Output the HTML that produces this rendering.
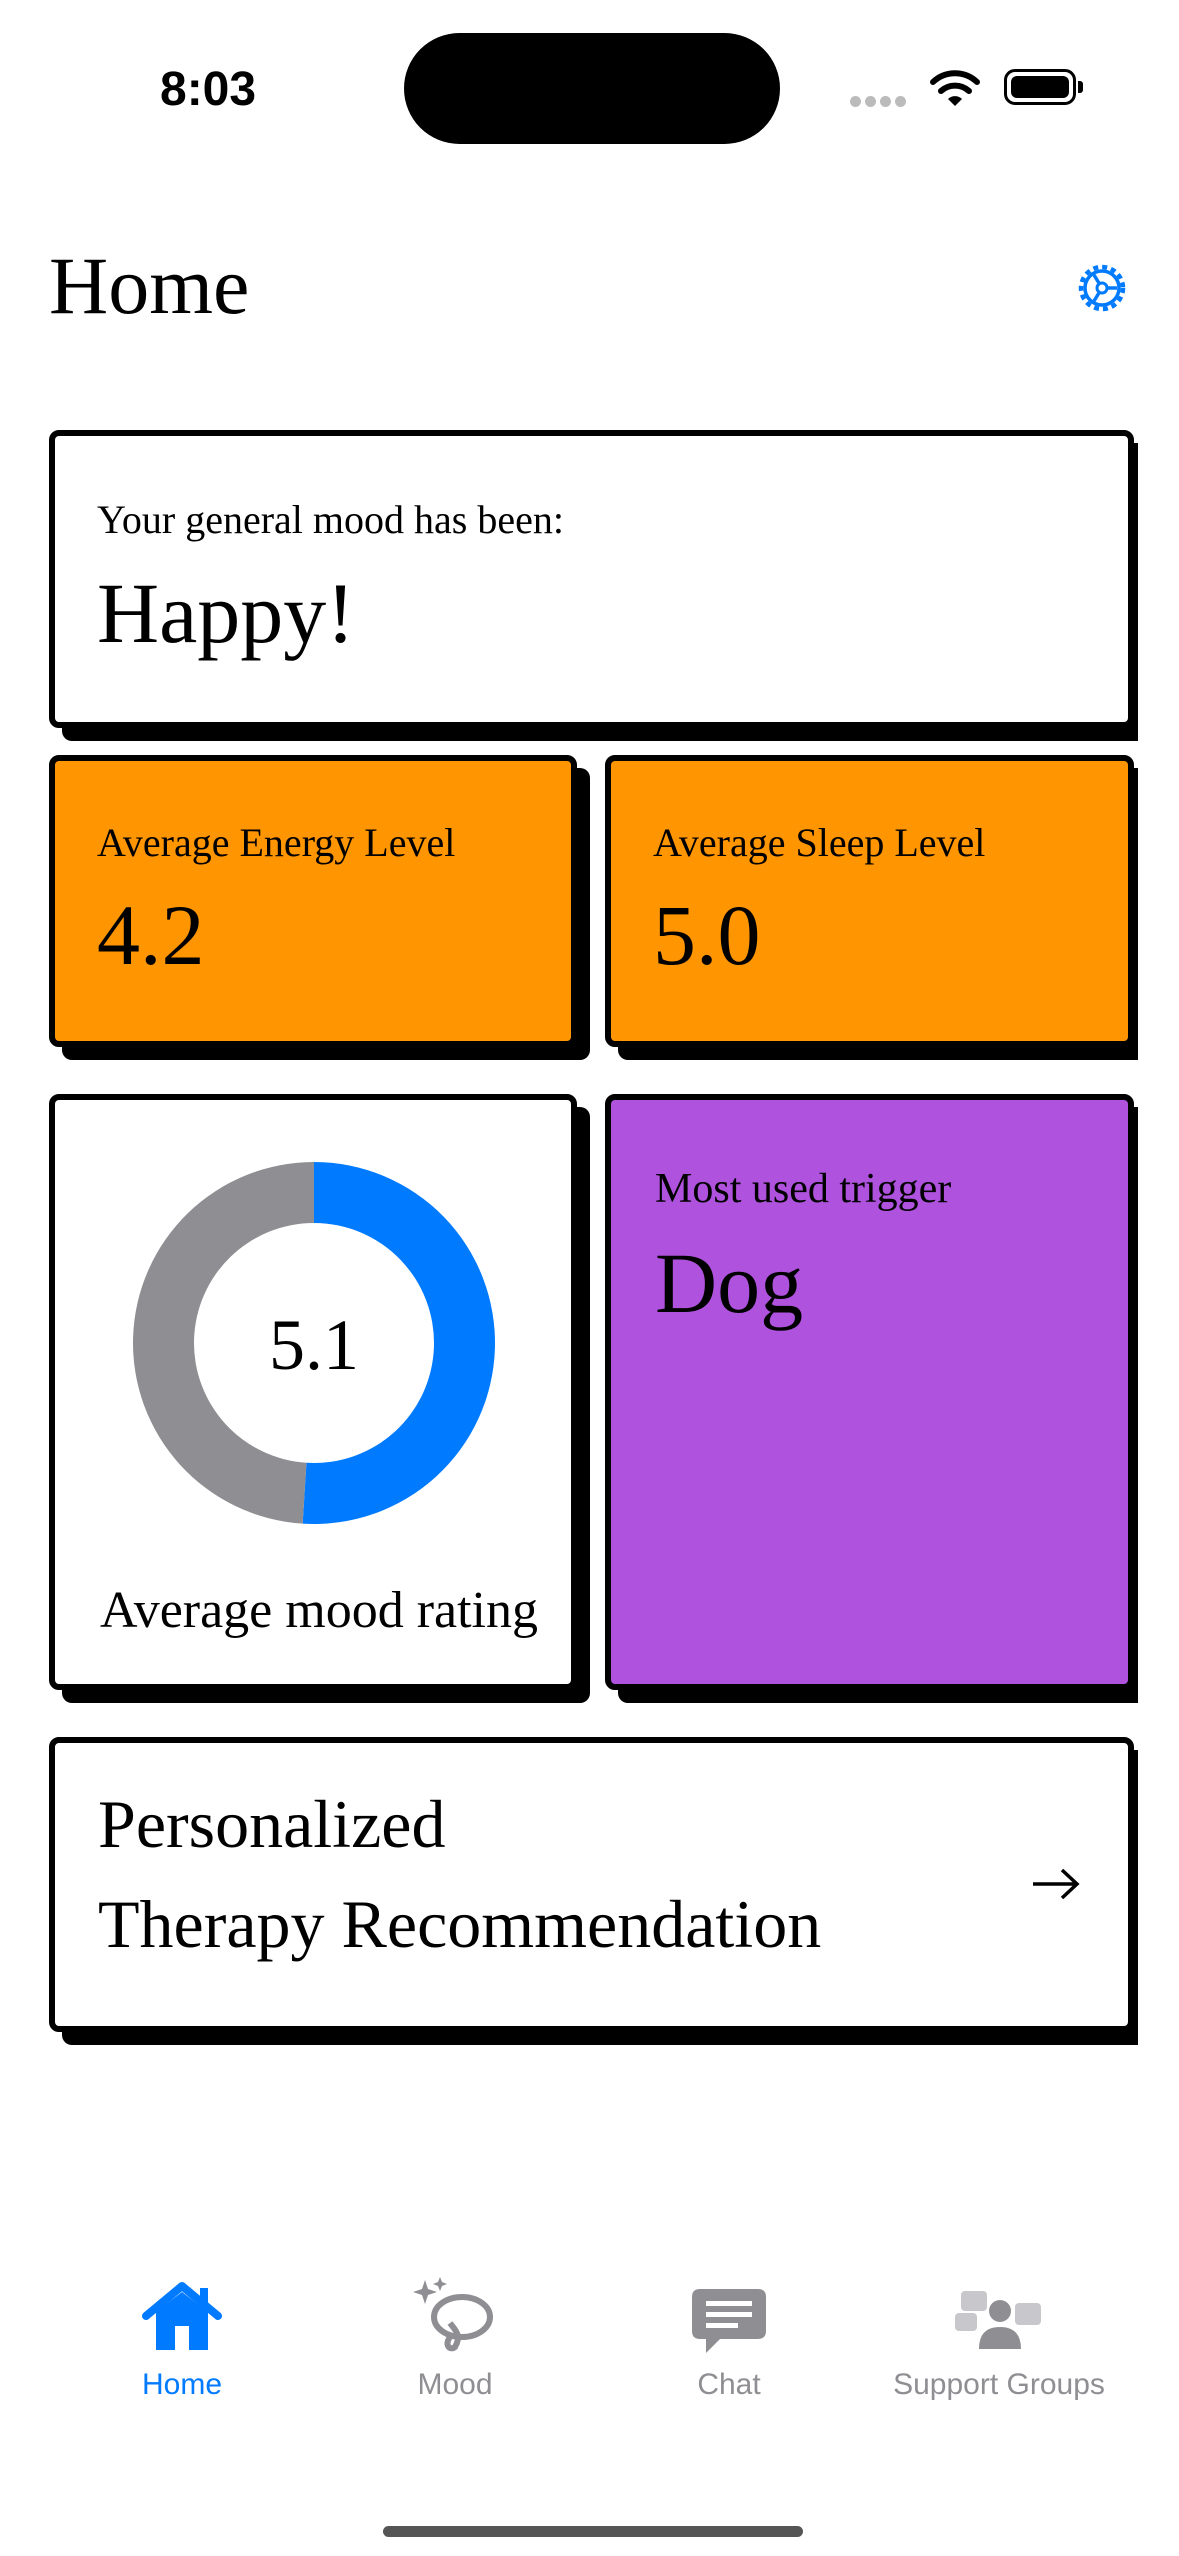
<!DOCTYPE html>
<html><head><meta charset="utf-8">
<style>
html,body{margin:0;padding:0;}
body{width:1179px;height:2556px;background:#fff;position:relative;overflow:hidden;font-family:"Liberation Serif",serif;color:#000;}
.abs{position:absolute;}
.clip{position:absolute;left:0;top:0;width:1138px;height:2100px;overflow:hidden;}
.card{position:absolute;box-sizing:border-box;border:6px solid #000;border-radius:10px;box-shadow:13px 13px 0 #000;}
.t{position:absolute;white-space:nowrap;line-height:1;}
.sans{font-family:"Liberation Sans",sans-serif;}
.tab{position:absolute;top:2368px;width:260px;margin-left:-130px;text-align:center;font-family:"Liberation Sans",sans-serif;font-size:30px;color:#8e8e93;}
</style></head>
<body>
<div class="t sans" style="left:160px;top:66px;font-size:48px;font-weight:bold;">8:03</div>
<div class="abs" style="left:404px;top:33px;width:376px;height:111px;background:#000;border-radius:56px;"></div>
<div class="abs" style="left:850px;top:96px;">
  <span style="position:absolute;left:0;width:11px;height:11px;border-radius:6px;background:#bbb"></span>
  <span style="position:absolute;left:15px;width:11px;height:11px;border-radius:6px;background:#bbb"></span>
  <span style="position:absolute;left:30px;width:11px;height:11px;border-radius:6px;background:#bbb"></span>
  <span style="position:absolute;left:45px;width:11px;height:11px;border-radius:6px;background:#bbb"></span>
</div>
<svg class="abs" style="left:930px;top:68px" width="50" height="40" viewBox="0 0 50 40">
  <path d="M3 14 A32 32 0 0 1 47 14" stroke="#000" stroke-width="6" fill="none" stroke-linecap="round"/>
  <path d="M11 23 A21 21 0 0 1 39 23" stroke="#000" stroke-width="6" fill="none" stroke-linecap="round"/>
  <path d="M18 31 L25 38 L32 31 A10 10 0 0 0 18 31Z" fill="#000"/>
</svg>
<div class="abs" style="left:1004px;top:69px;width:72px;height:36px;box-sizing:border-box;border:3px solid #000;border-radius:11px;padding:4px;">
  <div style="width:100%;height:100%;background:#000;border-radius:6px;"></div>
</div>
<div class="abs" style="left:1078px;top:81px;width:5px;height:12px;background:#000;border-radius:0 3px 3px 0;"></div>

<div class="t" style="left:49px;top:245px;font-size:82px;">Home</div>
<svg class="abs" style="left:1072px;top:258px" width="60" height="60" viewBox="0 0 60 60">
  <circle cx="30" cy="30" r="21" stroke="#007AFF" stroke-width="4.5" fill="none" stroke-dasharray="5 4"/>
  <circle cx="30" cy="30" r="17" stroke="#007AFF" stroke-width="3.5" fill="none"/>
  <path d="M30 30 L45 30 M30 30 L22 17 M30 30 L22 43" stroke="#007AFF" stroke-width="3.5"/>
  <circle cx="30" cy="30" r="5" fill="#fff" stroke="#007AFF" stroke-width="3"/>
</svg>

<div class="clip">
  <div class="card" style="left:49px;top:430px;width:1085px;height:298px;background:#fff;"></div>
  <div class="card" style="left:49px;top:755px;width:528px;height:292px;background:#FF9500;"></div>
  <div class="card" style="left:605px;top:755px;width:529px;height:292px;background:#FF9500;"></div>
  <div class="card" style="left:49px;top:1094px;width:528px;height:596px;background:#fff;"></div>
  <div class="card" style="left:605px;top:1094px;width:529px;height:596px;background:#AF52DE;"></div>
  <div class="card" style="left:49px;top:1737px;width:1085px;height:295px;background:#fff;"></div>
</div>

<div class="t" style="left:97px;top:500px;font-size:40px;">Your general mood has been:</div>
<div class="t" style="left:97px;top:570px;font-size:86px;">Happy!</div>
<div class="t" style="left:97px;top:823px;font-size:40px;">Average Energy Level</div>
<div class="t" style="left:97px;top:892px;font-size:86px;">4.2</div>
<div class="t" style="left:653px;top:823px;font-size:40px;">Average Sleep Level</div>
<div class="t" style="left:653px;top:892px;font-size:86px;">5.0</div>

<svg class="abs" id="donut" style="left:49px;top:1094px" width="530" height="450"></svg>
<div class="t" style="left:100px;top:1585px;font-size:52px;">Average mood rating</div>

<div class="t" style="left:655px;top:1168px;font-size:42px;">Most used trigger</div>
<div class="t" style="left:655px;top:1240px;font-size:86px;">Dog</div>

<div class="t" style="left:98px;top:1790px;font-size:68px;">Personalized</div>
<div class="t" style="left:98px;top:1890px;font-size:68px;">Therapy Recommendation</div>
<svg class="abs" style="left:1030px;top:1866px" width="52" height="36" viewBox="0 0 52 36">
  <path d="M3 18 H47 M32 4 L47 18 L32 32" stroke="#000" stroke-width="3.5" fill="none"/>
</svg>

<svg class="abs" style="left:140px;top:2280px" width="84" height="74" viewBox="0 0 84 74">
  <path d="M6 36 L42 6 L78 36" stroke="#007AFF" stroke-width="8" fill="none" stroke-linecap="round" stroke-linejoin="round"/>
  <path d="M16 32 V70 H68 V32 L42 12Z" fill="#007AFF"/>
  <rect x="35" y="46" width="14" height="24" fill="#fff"/>
  <rect x="60" y="8" width="8" height="18" fill="#007AFF"/>
</svg>
<div class="tab" style="left:182px;color:#007AFF;">Home</div>
<svg class="abs" style="left:410px;top:2275px" width="90" height="80" viewBox="0 0 90 80">
  <path d="M15 5 L18 14 L27 17 L18 20 L15 29 L12 20 L3 17 L12 14Z" fill="#8e8e93"/>
  <path d="M30 2 L32 7 L37 9 L32 11 L30 16 L28 11 L23 9 L28 7Z" fill="#8e8e93"/>
  <ellipse cx="52" cy="42" rx="28" ry="20" stroke="#8e8e93" stroke-width="6" fill="none"/>
  <path d="M40 48 C45 55 52 60 45 72 C40 76 34 70 40 62" stroke="#8e8e93" stroke-width="6" fill="none"/>
</svg>
<div class="tab" style="left:455px;">Mood</div>
<svg class="abs" style="left:690px;top:2287px" width="78" height="72" viewBox="0 0 78 72">
  <path d="M10 2 H68 Q76 2 76 10 V44 Q76 52 68 52 H30 L16 66 V52 H10 Q2 52 2 44 V10 Q2 2 10 2Z" fill="#8e8e93"/>
  <rect x="16" y="14" width="46" height="5" fill="#fff"/>
  <rect x="16" y="25" width="46" height="5" fill="#fff"/>
  <rect x="16" y="36" width="32" height="5" fill="#fff"/>
</svg>
<div class="tab" style="left:729px;">Chat</div>
<svg class="abs" style="left:955px;top:2287px" width="90" height="68" viewBox="0 0 90 68">
  <rect x="6" y="4" width="26" height="20" rx="4" fill="#c7c7cc"/>
  <rect x="0" y="26" width="22" height="18" rx="4" fill="#c7c7cc"/>
  <rect x="60" y="16" width="26" height="22" rx="4" fill="#c7c7cc"/>
  <circle cx="45" cy="24" r="11" fill="#8e8e93"/>
  <path d="M24 62 Q24 40 45 40 Q66 40 66 62Z" fill="#8e8e93"/>
</svg>
<div class="tab" style="left:999px;width:300px;margin-left:-150px;">Support Groups</div>

<div class="abs" style="left:383px;top:2526px;width:420px;height:11px;background:#555;border-radius:6px;"></div>

<script>
const moodValue = [5.1];
const moodMax = [10];
const moodLabel = ["5.1"];
(function(){
  const svg = document.getElementById('donut');
  const NS = 'http://www.w3.org/2000/svg';
  const cx = 265, cy = 249, rO = 181, rI = 120;
  const frac = moodValue[0] / moodMax[0];
  function pt(r, f){ const a = f*2*Math.PI - Math.PI/2; return [cx + r*Math.cos(a), cy + r*Math.sin(a)]; }
  function arc(f0, f1, color, name){
    const large = (f1 - f0) > 0.5 ? 1 : 0;
    const a = pt(rO,f0), b = pt(rO,f1), c = pt(rI,f1), d = pt(rI,f0);
    const p = document.createElementNS(NS,'path');
    p.setAttribute('d', `M${a[0]} ${a[1]} A${rO} ${rO} 0 ${large} 1 ${b[0]} ${b[1]} L${c[0]} ${c[1]} A${rI} ${rI} 0 ${large} 0 ${d[0]} ${d[1]}Z`);
    p.setAttribute('fill', color);
    
    
    svg.appendChild(p);
  }
  arc(0, frac, '#007AFF', 'donut-value-slice');
  arc(frac, 0.99999, '#8E8E93', 'donut-remaining-slice');
  const t = document.createElementNS(NS,'text');
  t.setAttribute('x', cx); t.setAttribute('y', cy + 26);
  t.setAttribute('text-anchor', 'middle');
  t.setAttribute('font-family', 'Liberation Serif, serif');
  t.setAttribute('font-size', '72');
  t.textContent = moodLabel[0];
  
  
  svg.appendChild(t);
})();
</script>
</body></html>
